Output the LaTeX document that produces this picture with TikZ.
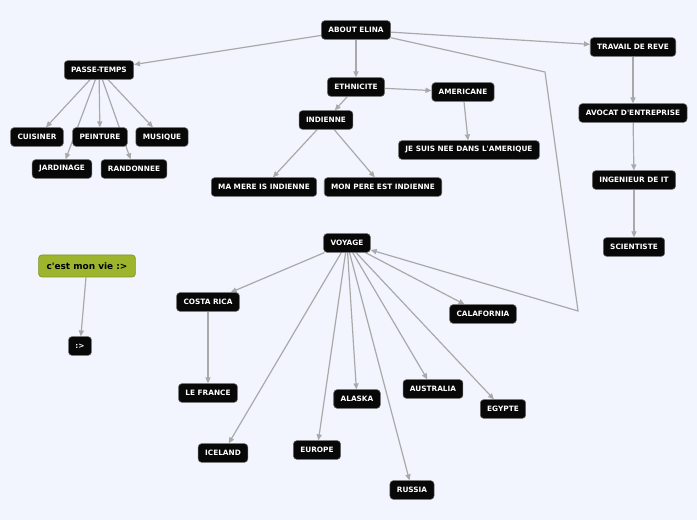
\documentclass[tikz,border=0pt]{standalone}
\usepackage{fontspec}
\setmainfont{DejaVu Sans}
\usetikzlibrary{arrows.meta,backgrounds}
\definecolor{pagebg}{HTML}{F3F5FE}
\definecolor{topicfill}{HTML}{080808}
\definecolor{topicline}{HTML}{6A6A6A}
\definecolor{mainfill}{HTML}{9CB52C}
\definecolor{mainline}{HTML}{7D9420}
\definecolor{linkgray}{HTML}{A9A9A9}

\begin{document}
\begin{tikzpicture}[
  x=0.75pt, y=-0.75pt,
  topic/.style  = {draw=topicline, fill=topicfill, text=white, rounded corners=2.5pt,
                   line width=0.4pt, font=\fontsize{5.5}{6}\selectfont\bfseries,
                   inner xsep=5.2pt, inner ysep=0pt, minimum height=14pt},
  mainnt/.style = {draw=mainline, fill=mainfill, text=black, rounded corners=2.5pt,
                   line width=0.5pt, font=\fontsize{6.7}{8}\selectfont\bfseries,
                   inner xsep=6pt, inner ysep=0pt, minimum height=16.5pt},
  ln/.style     = {-{Triangle[length=4.5pt,width=3.8pt]}, draw=linkgray, line width=0.9pt},
]

% --- centre and the top branches ------------------------------------------------------------------
\node[topic] (about)   at (356,30)  {ABOUT ELINA};
\node[topic] (passe)   at (99,70)   {PASSE-TEMPS};
\node[topic] (cuis)    at (37,137)  {CUISINER};
\node[topic] (pein)    at (100,137) {PEINTURE};
\node[topic] (musi)    at (162,137) {MUSIQUE};
\node[topic] (jard)    at (62,169)  {JARDINAGE};
\node[topic] (rando)   at (134,169) {RANDONNEE};

\node[topic] (ethn)    at (356,87)  {ETHNICITE};
\node[topic] (amer)    at (463,92)  {AMERICANE};
\node[topic] (indi)    at (326,120) {INDIENNE};
\node[topic] (nee)     at (469,150) {JE SUIS NEE DANS L\textquotesingle AMERIQUE};
\node[topic] (mere)    at (264,187) {MA MERE IS INDIENNE};
\node[topic] (pere)    at (383,187) {MON PERE EST INDIENNE};

\node[topic] (trav)    at (633,47)  {TRAVAIL DE REVE};
\node[topic] (avoc)    at (633,113) {AVOCAT D\textquotesingle ENTREPRISE};
\node[topic] (inge)    at (634,180) {INGENIEUR DE IT};
\node[topic] (scie)    at (634,247) {SCIENTISTE};

% --- the floating one -----------------------------------------------------------------------------
\node[mainnt] (vie)    at (87,266)  {c\textquotesingle est mon vie :>};
\node[topic]  (smile)  at (80,346)  {:>};

% --- voyage ---------------------------------------------------------------------------------------
\node[topic] (voy)     at (347,243) {VOYAGE};
\node[topic] (costa)   at (208,302) {COSTA RICA};
\node[topic] (cala)    at (483,314) {CALAFORNIA};
\node[topic] (fran)    at (208,393) {LE FRANCE};
\node[topic] (alas)    at (357,399) {ALASKA};
\node[topic] (aust)    at (433,389) {AUSTRALIA};
\node[topic] (egyp)    at (503,409) {EGYPTE};
\node[topic] (icel)    at (223,453) {ICELAND};
\node[topic] (euro)    at (317,450) {EUROPE};
\node[topic] (russ)    at (412,490) {RUSSIA};

\coordinate (bendA) at (545,72);
\coordinate (bendB) at (578,311);

% --- links, kept under the boxes ------------------------------------------------------------------
\begin{scope}[on background layer]
  \fill[pagebg] (0,0) rectangle (697,520);

  \draw[ln] (about) -- (passe);
  \draw[ln] (about) -- (ethn);
  \draw[ln] (about) -- (trav);
  \draw[ln] (about) -- (bendA) -- (bendB) -- (voy);

  \foreach \t in {cuis,pein,musi,jard,rando}
    \draw[ln] (passe) -- (\t);

  \draw[ln] (ethn) -- (amer);
  \draw[ln] (ethn) -- (indi);
  \draw[ln] (amer) -- (nee);
  \draw[ln] (indi) -- (mere);
  \draw[ln] (indi) -- (pere);

  \draw[ln] (trav) -- (avoc);
  \draw[ln] (avoc) -- (inge);
  \draw[ln] (inge) -- (scie);

  \draw[ln] (vie) -- (smile);

  \foreach \t in {costa,cala,alas,aust,egyp,icel,euro,russ}
    \draw[ln] (voy) -- (\t);
  \draw[ln] (costa) -- (fran);
\end{scope}

\end{tikzpicture}
\end{document}
